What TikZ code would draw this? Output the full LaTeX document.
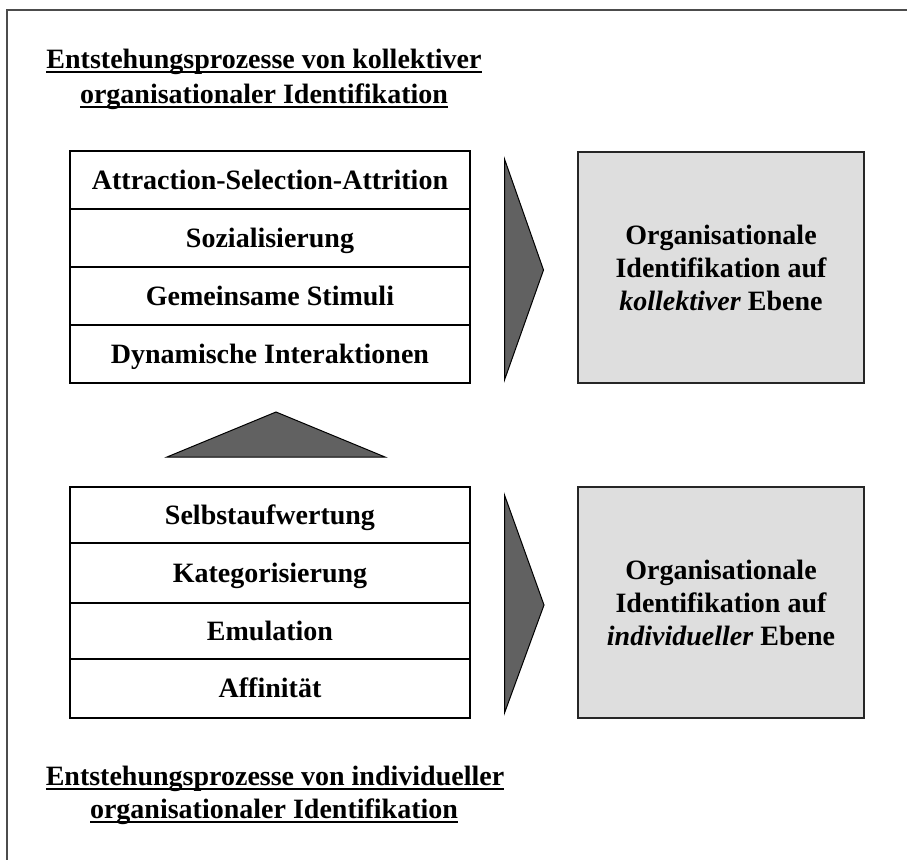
\documentclass[tikz,border=0pt]{standalone}
\usepackage{fontspec}
\setmainfont{Liberation Serif}
% underlined title line with a heavy rule just below the baseline
\newcommand{\ulbar}[1]{\setbox0=\hbox{#1}\rlap{\rule[-4.5pt]{\wd0}{2pt}}\box0}
\definecolor{arrowgray}{gray}{0.38}
\definecolor{boxgray}{gray}{0.87}
\definecolor{framegray}{gray}{0.3}
\begin{document}
\begin{tikzpicture}[x=1pt,y=-1pt,
  every node/.style={font=\fontsize{28}{33}\selectfont\bfseries, inner sep=0pt},
  rowbox/.style={draw=black, line width=1.4pt, minimum width=400pt,
                 text height=18.5pt, text depth=0pt},
  resultbox/.style={draw=black!85, line width=1.4pt, fill=boxgray,
                    minimum width=286pt, minimum height=231pt, align=center},
  titleline/.style={anchor=base},
  wedge/.style={draw=black, line width=1pt, fill=arrowgray, line join=miter}
]
\useasboundingbox (0,0) rectangle (907,859);
\clip (0,0) rectangle (907,859);

% outer frame (only its top and left edges fall inside the page)
\draw[framegray, line width=2.5pt] (7,880) -- (7,10) -- (930,10);

% heading of the collective processes
\node[titleline] (topA) at (264,68) {\ulbar{Entstehungsprozesse von kollektiver}};
\node[titleline] (topB) at (264,103) {\ulbar{organisationaler Identifikation}};

% collective processes
\node[rowbox, minimum height=58pt] (c1) at (270,180) {Attraction-Selection-Attrition};
\node[rowbox, minimum height=58pt] (c2) at (270,238) {Sozialisierung};
\node[rowbox, minimum height=58pt] (c3) at (270,296) {Gemeinsame Stimuli};
\node[rowbox, minimum height=58pt] (c4) at (270,354) {Dynamische Interaktionen};

% individual processes
\node[rowbox, minimum height=56pt] (i1) at (270,515) {Selbstaufwertung};
\node[rowbox, minimum height=60pt] (i2) at (270,573) {Kategorisierung};
\node[rowbox, minimum height=56pt] (i3) at (270,631) {Emulation};
\node[rowbox, minimum height=59pt] (i4) at (270,688.5) {Affinität};

% outcomes
\node[resultbox] (collective) at (721,267.5)
  {Organisationale\\Identifikation auf\\\textit{kollektiver} Ebene};
\node[resultbox] (individual) at (721,602.5)
  {Organisationale\\Identifikation auf\\\textit{individueller} Ebene};

% wedges: individual -> collective, processes -> outcomes
\draw[wedge] (167,457) -- (276,412) -- (385,457) -- cycle;
\draw[wedge] (504.5,159) -- (543.5,270) -- (504.5,380) -- cycle;
\draw[wedge] (504.5,495) -- (544,605) -- (504.5,713) -- cycle;

% heading of the individual processes
\node[titleline] (botA) at (275,785) {\ulbar{Entstehungsprozesse von individueller}};
\node[titleline] (botB) at (274,818) {\ulbar{organisationaler Identifikation}};
\end{tikzpicture}
\end{document}
